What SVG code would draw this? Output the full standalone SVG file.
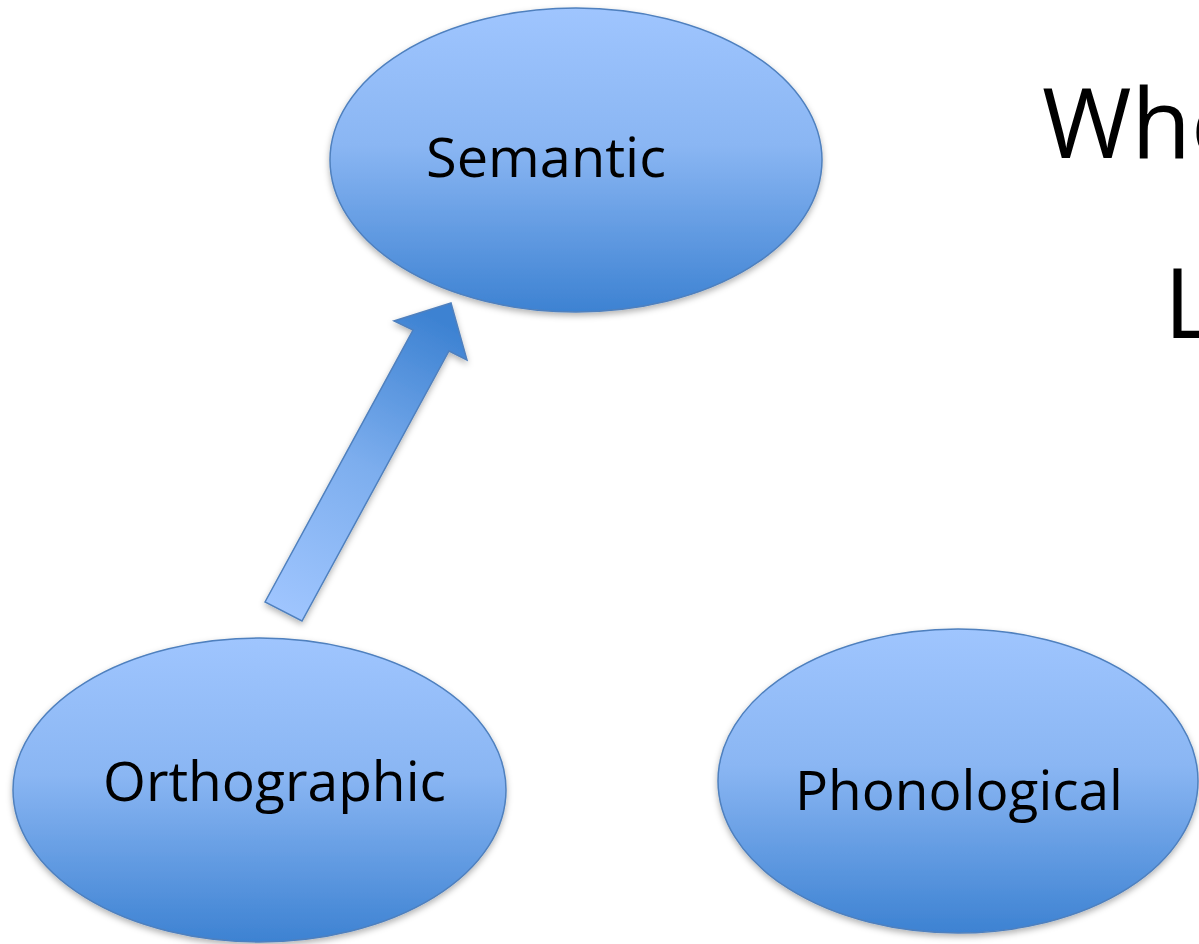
<svg xmlns="http://www.w3.org/2000/svg" width="1199" height="944" viewBox="0 0 1199 944">
<defs>
<linearGradient id="eg" x1="0" y1="0" x2="0" y2="1">
<stop offset="0" stop-color="#9FC5FE"/>
<stop offset="0.45" stop-color="#8AB6F3"/>
<stop offset="1" stop-color="#3D82D2"/>
</linearGradient>
<linearGradient id="ag" gradientUnits="userSpaceOnUse" x1="284" y1="612" x2="440" y2="320">
<stop offset="0" stop-color="#9FC5FE"/>
<stop offset="0.5" stop-color="#7DAEEE"/>
<stop offset="1" stop-color="#3D82D2"/>
</linearGradient>
<filter id="sh" x="-10%" y="-10%" width="120%" height="125%">
<feDropShadow dx="0" dy="3" stdDeviation="3" flood-color="#000" flood-opacity="0.3"/>
</filter>
</defs>
<style>
.node{fill:url(#eg);stroke:#4F80BE;stroke-width:1.5;filter:url(#sh)}
.lbl{font-family:"Open Sans","Noto Sans",sans-serif;font-size:55px;fill:#000}
.big{font-family:"Open Sans","Noto Sans",sans-serif;font-size:97px;fill:#000}
</style>
<rect width="1199" height="944" fill="#fff"/>
<g id="title">
<text class="big" x="1042" y="158">Whe</text>
<text class="big" x="1164" y="338">L</text>
</g>
<g id="semantic">
<ellipse class="node" cx="576" cy="160" rx="246" ry="152"/>
<text class="lbl" x="426" y="177" textLength="240" lengthAdjust="spacingAndGlyphs">Semantic</text>
</g>
<g id="orthographic">
<ellipse class="node" cx="259.5" cy="790" rx="246.5" ry="152"/>
<text class="lbl" x="103" y="801" textLength="343" lengthAdjust="spacingAndGlyphs">Orthographic</text>
</g>
<g id="phonological">
<ellipse class="node" cx="958" cy="781" rx="240" ry="152"/>
<text class="lbl" x="795" y="810" textLength="328" lengthAdjust="spacingAndGlyphs">Phonological</text>
</g>
<g id="connectors">
<polygon points="265,602 413,330 394,321 451,303 467,360 449,351 302,621" fill="url(#ag)" stroke="#4F80BE" stroke-width="1.5" stroke-linejoin="miter" filter="url(#sh)"/>
</g>
</svg>
